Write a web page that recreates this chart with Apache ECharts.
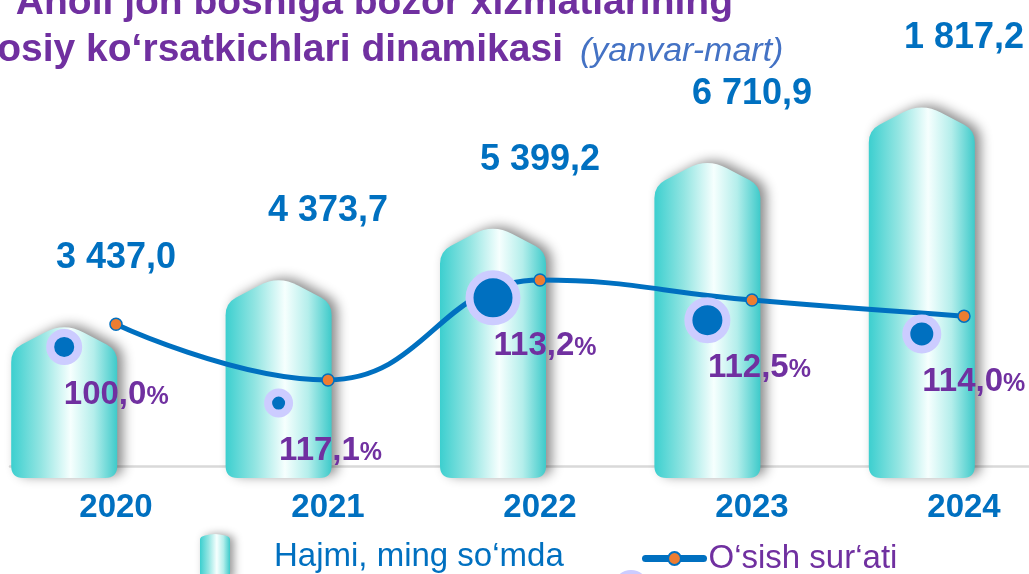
<!DOCTYPE html>
<html>
<head>
<meta charset="utf-8">
<script src="https://cdn.jsdelivr.net/npm/echarts@6/dist/echarts.min.js"></script>
<style>
  html, body { margin: 0; padding: 0; background: #fff; }
  #chart { width: 1029px; height: 574px; }
</style>
</head>
<body>
<div id="chart"></div>
<script>
// data
var years = ['2020', '2021', '2022', '2023', '2024'];
var volume = [3437.0, 4373.7, 5399.2, 6710.9, 7817.2];
var volumeLabels = ['3 437,0', '4 373,7', '5 399,2', '6 710,9', '1 817,2'];
var rates = [100.0, 117.1, 113.2, 112.5, 114.0];
var lineLevel = [31.8, 19.3, 41.7, 37.2, 33.6];
var bubbleLevel = [26.7, 14.1, 37.7, 32.7, 29.6];
var bubbleSize = [28, 21, 47, 38, 31];

var FONT = 'Liberation Sans, Arial, sans-serif';
var BLUE = '#0070C0';
var PURPLE = '#7030A0';

var barFill = new echarts.graphic.LinearGradient(0, 0, 1, 0, [
  { offset: 0, color: '#3ccfcf' },
  { offset: 0.28, color: '#93e5e2' },
  { offset: 0.56, color: '#f6fffe' },
  { offset: 0.78, color: '#b4eeeb' },
  { offset: 1, color: '#3ecaca' }
]);

// pointed "cylinder" bar
function renderBar(params, api) {
  var p = api.coord([api.value(0), api.value(1)]);
  var x = p[0], top = p[1];
  var base = params.coordSys.y + params.coordSys.height + 12;
  var hw = 53, roof = 28, c = 12, d = 22, r = 12;
  var len = Math.sqrt(hw * hw + roof * roof);
  var ux = hw / len, uy = roof / len;
  var L = x - hw, R = x + hw, S = top + roof;
  var path = 'M' + L + ',' + (base - r) +
    'L' + L + ',' + (S + c) +
    'Q' + L + ',' + S + ',' + (L + ux * c) + ',' + (S - uy * c) +
    'L' + (x - ux * d) + ',' + (top + uy * d) +
    'Q' + x + ',' + top + ',' + (x + ux * d) + ',' + (top + uy * d) +
    'L' + (R - ux * c) + ',' + (S - uy * c) +
    'Q' + R + ',' + S + ',' + R + ',' + (S + c) +
    'L' + R + ',' + (base - r) +
    'Q' + R + ',' + base + ',' + (R - r) + ',' + base +
    'L' + (L + r) + ',' + base +
    'Q' + L + ',' + base + ',' + L + ',' + (base - r) + 'Z';
  return {
    type: 'path',
    shape: { pathData: path },
    style: {
      fill: barFill,
      shadowColor: 'rgba(0,0,0,0.45)',
      shadowBlur: 12,
      shadowOffsetX: 6,
      shadowOffsetY: -2
    }
  };
}

var chart = echarts.init(document.getElementById('chart'), null, { renderer: 'canvas' });

var option = {
  animation: false,
  backgroundColor: '#fff',
  graphic: [
    { type: 'text', x: 733, y: 3, style: { text: 'Aholi jon boshiga bozor xizmatlarining', align: 'right', verticalAlign: 'middle', fill: PURPLE, font: 'bold 39px ' + FONT } },
    { type: 'text', x: 563, y: 50, style: { text: 'asosiy ko‘rsatkichlari dinamikasi', align: 'right', verticalAlign: 'middle', fill: PURPLE, font: 'bold 39px ' + FONT } },
    { type: 'text', x: 580, y: 52, style: { text: '(yanvar-mart)', align: 'left', verticalAlign: 'middle', fill: '#4472C4', font: 'italic 34px ' + FONT } }
  ],
  legend: [
    {
      data: [{ name: 'Hajmi, ming so‘mda', icon: 'path://M0,6 Q0,3 5,2 Q15,-1 25,2 Q30,3 30,6 L30,46 L0,46 Z' }],
      left: 195, top: 529, itemWidth: 30, itemHeight: 46,
      itemStyle: { shadowColor: 'rgba(0,0,0,0.4)', shadowBlur: 8, shadowOffsetX: 4 },
      textStyle: { fontFamily: FONT, fontSize: 33, color: BLUE, padding: [0, 0, 0, 39] },
      selectedMode: false
    },
    {
      data: [{ name: 'O‘sish sur‘ati', lineStyle: { width: 7, cap: 'round' } }],
      left: 637, top: 537, itemWidth: 58, itemHeight: 16,
      textStyle: { fontFamily: FONT, fontSize: 33, color: PURPLE },
      selectedMode: false
    },
    {
      data: [{ name: 'bubble', icon: 'circle', itemStyle: { color: BLUE, borderColor: '#CCCCFF', borderWidth: 8 } }],
      left: 608, top: 565, itemWidth: 28, itemHeight: 28,
      formatter: function () { return ''; },
      selectedMode: false
    }
  ],
  grid: [
    { left: 10, right: -41, top: 20, bottom: 108, outerBoundsMode: 'none' },
    { left: -43, right: 0, top: 20, bottom: 108, outerBoundsMode: 'none' }
  ],
  xAxis: [
    {
      type: 'category', data: years, gridIndex: 0,
      axisLine: { lineStyle: { color: '#d9d9d9', width: 2.5 } },
      axisTick: { show: false },
      axisLabel: { color: BLUE, fontFamily: FONT, fontWeight: 'bold', fontSize: 33, margin: 25 }
    },
    { type: 'category', data: years, gridIndex: 1, show: false }
  ],
  yAxis: [
    { type: 'value', gridIndex: 0, min: 570, max: 9460, show: false },
    { type: 'value', gridIndex: 0, min: 0, max: 100, show: false },
    { type: 'value', gridIndex: 1, min: 570, max: 9460, show: false },
    { type: 'value', gridIndex: 1, min: 0, max: 100, show: false }
  ],
  series: [
    {
      name: 'Hajmi, ming so‘mda',
      type: 'custom',
      xAxisIndex: 1, yAxisIndex: 2,
      itemStyle: { color: barFill },
      renderItem: renderBar,
      encode: { x: 0, y: 1 },
      data: volume.map(function (v, i) { return [i, v]; }),
      z: 1
    },
    {
      // carries the value labels above the bars
      name: 'volumeLabel',
      type: 'bar',
      xAxisIndex: 0, yAxisIndex: 0,
      barWidth: 2,
      itemStyle: { color: 'rgba(0,0,0,0)' },
      label: {
        show: true, position: 'top', distance: 46,
        color: BLUE, fontFamily: FONT, fontWeight: 'bold', fontSize: 36,
        formatter: function (p) { return volumeLabels[p.dataIndex]; }
      },
      data: volume,
      z: 2
    },
    {
      name: 'O‘sish sur‘ati',
      type: 'line',
      xAxisIndex: 0, yAxisIndex: 1,
      smooth: 0.45,
      symbol: 'circle', symbolSize: 12,
      lineStyle: { color: BLUE, width: 5 },
      itemStyle: { color: '#ED7D31', borderColor: BLUE, borderWidth: 1.5 },
      data: lineLevel,
      z: 3
    },
    {
      name: 'bubble',
      type: 'scatter',
      xAxisIndex: 1, yAxisIndex: 3,
      symbol: 'circle',
      symbolSize: function (v, p) { return bubbleSize[p.dataIndex]; },
      itemStyle: { color: BLUE, borderColor: '#CCCCFF', borderWidth: 8, opacity: 1 },
      label: {
        show: true, position: 'inside', offset: [52, 48],
        formatter: function (p) {
          return '{n|' + rates[p.dataIndex].toFixed(1).replace('.', ',') + '}{p|%}';
        },
        rich: {
          n: { color: PURPLE, fontFamily: FONT, fontWeight: 'bold', fontSize: 33 },
          p: { color: PURPLE, fontFamily: FONT, fontWeight: 'bold', fontSize: 25, padding: [4, 0, 0, 0] }
        }
      },
      data: bubbleLevel,
      z: 4
    }
  ]
};

chart.setOption(option);
</script>
</body>
</html>
